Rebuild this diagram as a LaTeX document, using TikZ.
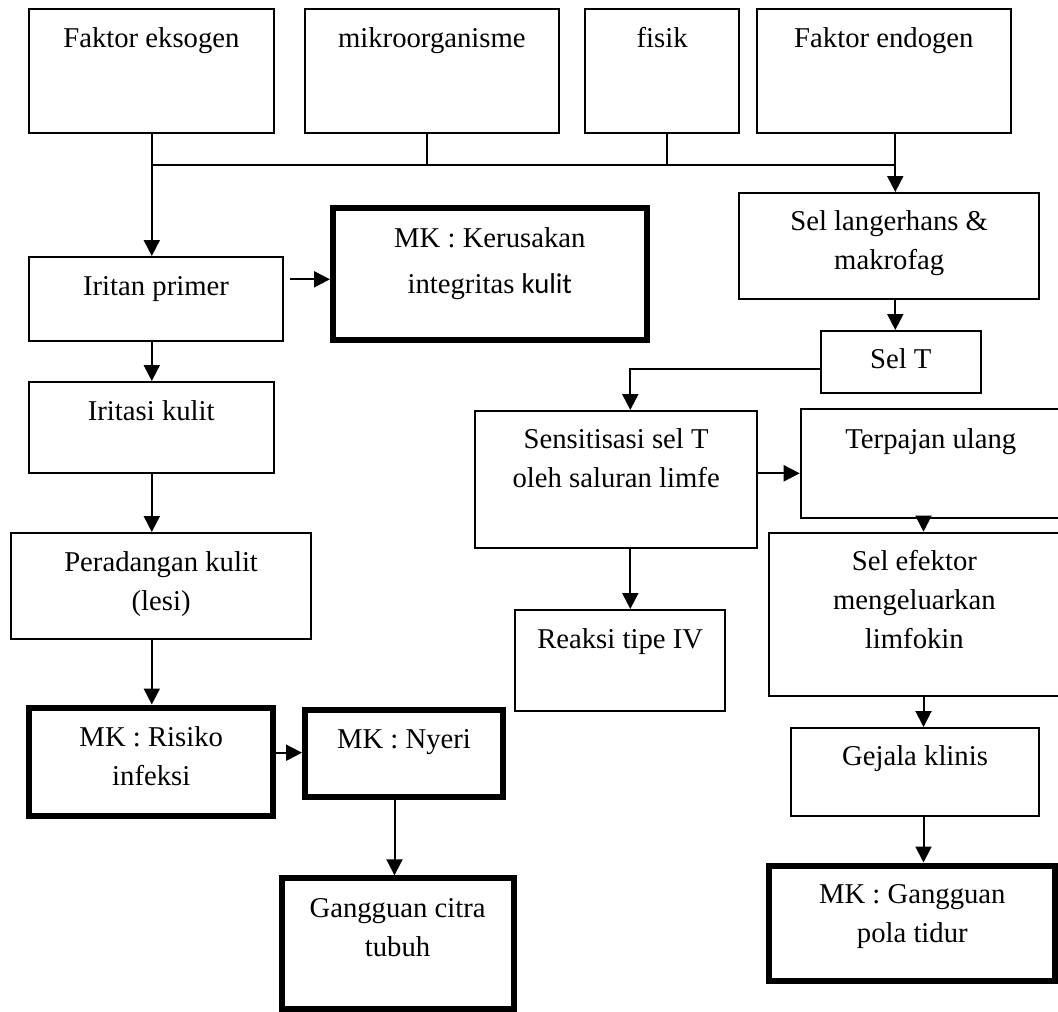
\documentclass[tikz,border=0pt]{standalone}
\usepackage{fontspec}
\setmainfont{Liberation Serif}
\newfontfamily\calfont{Carlito}
\usetikzlibrary{arrows.meta,calc}
\tikzset{
  thin box/.style={draw, line width=2pt, inner sep=0pt, rectangle},
  thick box/.style={draw, line width=6pt, inner sep=0pt, rectangle},
  txt/.style={anchor=north, inner sep=0pt, align=center,
    font=\fontsize{28.7}{39}\selectfont},
  ln/.style={line width=2pt},
  arr/.style={line width=2pt, -{Triangle[width=16pt,length=16pt]}}
}
\newcommand\mkbox[8]{%
  \node[#6, minimum width={#4pt-#2pt}, minimum height={#5pt-#3pt}] (#1)
    at ({(#2+#4)/2},{(#3+#5)/2}) {};
  \node[txt] (#1-t) at ({(#2+#4)/2},{#3+#7-27.3}) {\strut#8};
}
\begin{document}
\begin{tikzpicture}[x=1pt,y=-1pt]
\useasboundingbox (0,0) rectangle (1058,1012);
% top row
\mkbox{eks}{29}{9}{273.8}{133}{thin box}{38}{Faktor eksogen}
\mkbox{mikro}{304.7}{9}{559}{133}{thin box}{38}{mikroorganisme}
\mkbox{fisik}{585}{9}{739.3}{133}{thin box}{38}{fisik}
\mkbox{endo}{757}{9}{1010.8}{133}{thin box}{38}{Faktor endogen}
% left column
\mkbox{iritan}{29}{257}{283}{341}{thin box}{38}{Iritan primer}
\mkbox{kerus}{333}{208}{646.7}{340}{thick box}{39}{MK : Kerusakan\\[7pt]integritas {\calfont kulit}}
\mkbox{iritasi}{29}{382}{273.5}{473.3}{thin box}{38.5}{Iritasi kulit}
\mkbox{perad}{10.8}{533}{311.4}{639.3}{thin box}{38}{Peradangan kulit\\(lesi)}
\mkbox{risiko}{29.2}{707.5}{273.3}{815.5}{thick box}{39}{MK : Risiko\\infeksi}
\mkbox{nyeri}{305}{709.5}{503}{797}{thick box}{39}{MK : Nyeri}
\mkbox{citra}{281.5}{878.3}{513.7}{1009}{thick box}{39}{Gangguan citra\\tubuh}
% right column
\mkbox{langer}{739}{193}{1039.4}{299}{thin box}{37}{Sel langerhans \&\\makrofag}
\mkbox{selT}{820.6}{331}{981}{393}{thin box}{37.3}{Sel T}
\mkbox{sens}{475.3}{411}{757}{548.3}{thin box}{37.3}{Sensitisasi sel T\\oleh saluran limfe}
\mkbox{terp}{800.7}{409.3}{1061}{517.7}{thin box}{39}{Terpajan ulang}
\mkbox{efek}{768.7}{532.7}{1060}{695.7}{thin box}{37.3}{Sel efektor\\mengeluarkan\\limfokin}
\mkbox{reaksi}{515}{610}{725.3}{711}{thin box}{38.3}{Reaksi tipe IV}
\mkbox{gejala}{790.6}{728}{1039.4}{816}{thin box}{37}{Gejala klinis}
\mkbox{pola}{769.4}{865.5}{1055.2}{980.5}{thick box}{37.5}{MK : Gangguan\\pola tidur}
% helper coordinates
\coordinate (cL) at (151.8,0);
\coordinate (cM) at (427,0);
\coordinate (cF) at (667,0);
\coordinate (cT) at (895.3,0);
\coordinate (cS) at (630.3,0);
\coordinate (cE) at (923.5,0);
\coordinate (cN) at (394.5,0);
\coordinate (cB) at (0,165);
\coordinate (yK) at (0,279.3);
\coordinate (yST) at (0,369.3);
\coordinate (yTS) at (0,473.3);
\coordinate (yRN) at (0,752.7);
% bus
\draw[ln] (cL |- cB) -- (cT |- cB);
\draw[ln] (eks.south -| cL) -- (cL |- cB);
\draw[ln] (mikro.south -| cM) -- (cM |- cB);
\draw[ln] (fisik.south -| cF) -- (cF |- cB);
\draw[arr] (endo.south -| cT) -- (langer.north -| cT);
\draw[arr] (cL |- cB) -- (iritan.north -| cL);
% left flow
\draw[arr] ([xshift=6pt]iritan.east |- yK) -- (kerus.west |- yK);
\draw[arr] (iritan.south -| cL) -- (iritasi.north -| cL);
\draw[arr] (iritasi.south -| cL) -- (perad.north -| cL);
\draw[arr] (perad.south -| cL) -- (risiko.north -| cL);
\draw[arr] (risiko.east |- yRN) -- (nyeri.west |- yRN);
\draw[arr] (nyeri.south -| cN) -- (citra.north -| cN);
% right flow
\draw[arr] (langer.south -| cT) -- (selT.north -| cT);
\draw[arr] (selT.west |- yST) -| (sens.north -| cS);
\draw[arr] (sens.east |- yTS) -- (terp.west |- yTS);
\draw[arr] (sens.south -| cS) -- (reaksi.north -| cS);
\draw[arr] (terp.south -| cE) -- (efek.north -| cE);
\draw[arr] (efek.south -| cE) -- (gejala.north -| cE);
\draw[arr] (gejala.south -| cE) -- (pola.north -| cE);
\end{tikzpicture}
\end{document}
